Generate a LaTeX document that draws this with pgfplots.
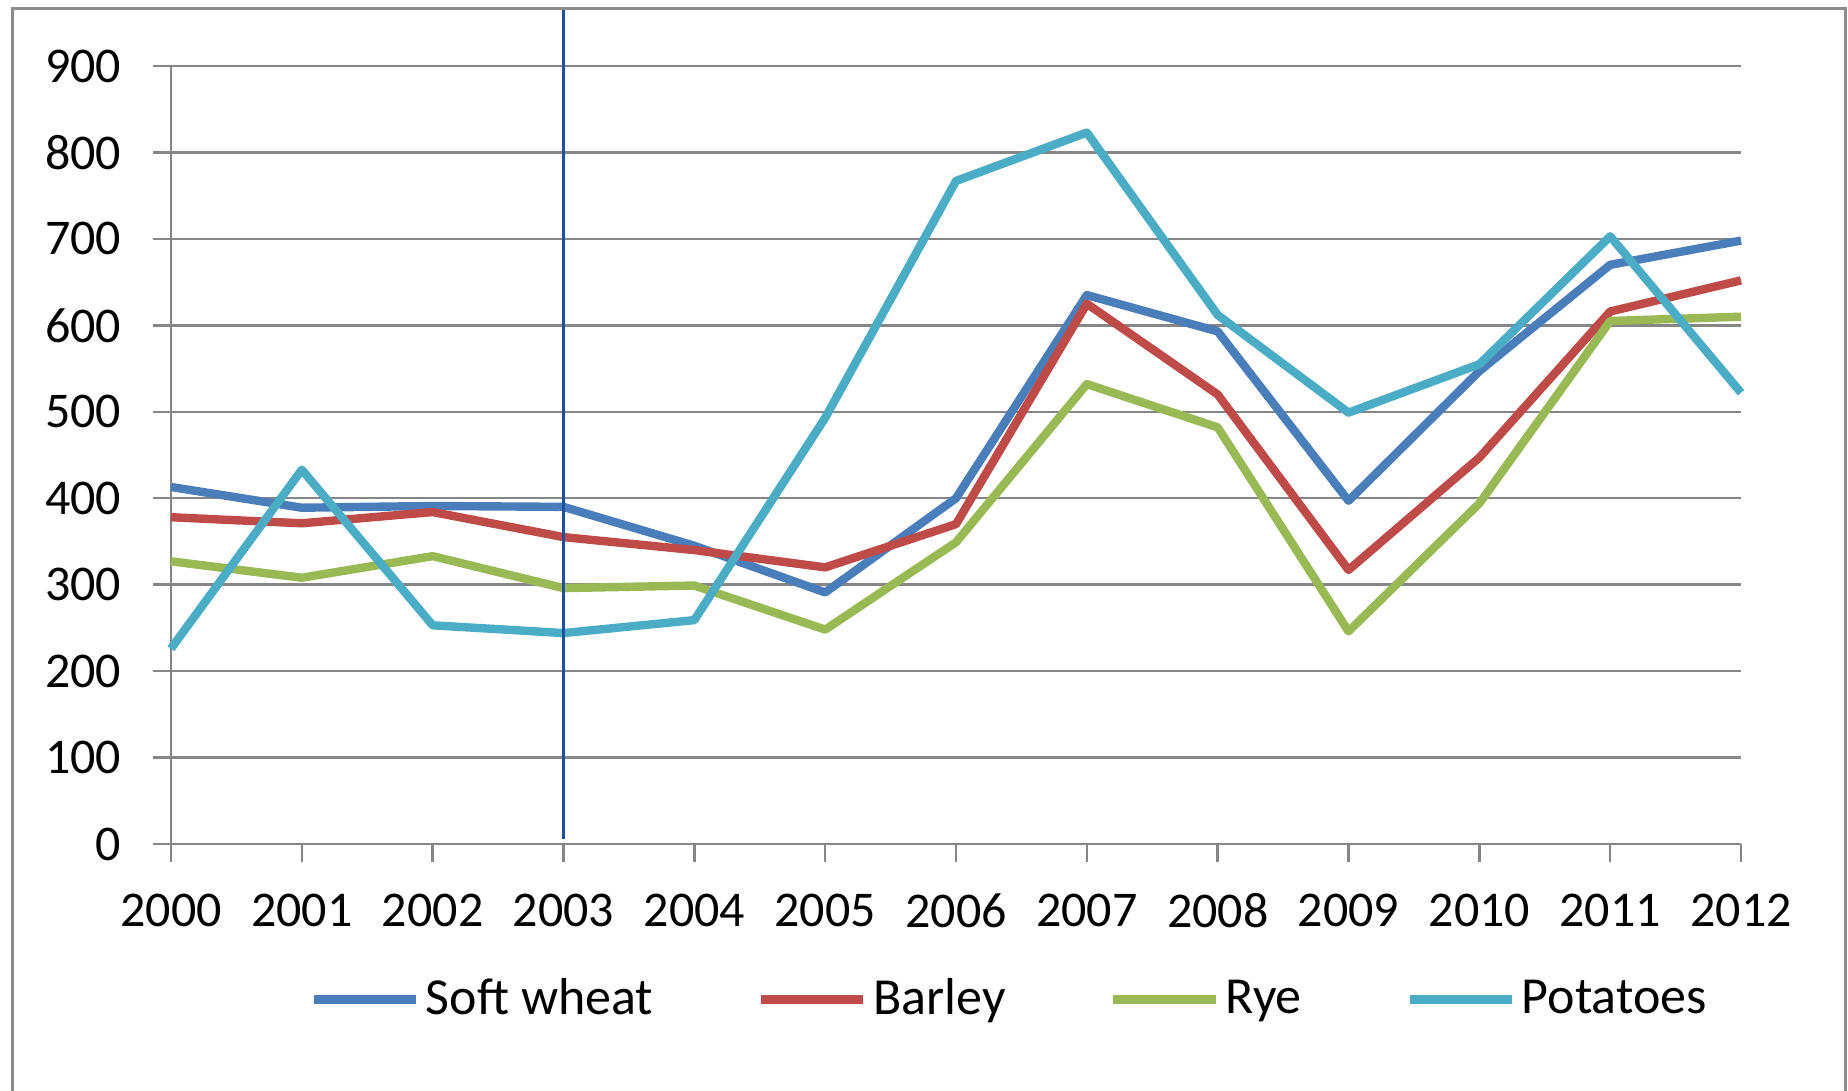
\documentclass[border=0pt]{standalone}
\usepackage{fontspec}
\setmainfont{Carlito}
\usepackage{pgfplots}
\pgfplotsset{compat=1.18}
\definecolor{cwheat}{RGB}{74,126,187}
\definecolor{cbarley}{RGB}{190,75,72}
\definecolor{crye}{RGB}{152,185,84}
\definecolor{cpot}{RGB}{75,172,198}
\definecolor{gridc}{RGB}{134,134,134}
\definecolor{framec}{RGB}{140,140,140}
\definecolor{cursor}{RGB}{30,80,160}
\begin{document}
\begin{tikzpicture}[x=1pt,y=1pt]
\useasboundingbox (-42.75,-61.5) rectangle (419.25,211);
\begin{axis}[
  at={(0,0)}, anchor=south west, scale only axis,
  width=392.5pt, height=194.5pt,
  xmin=0, xmax=12, ymin=0, ymax=900,
  enlargelimits=false,
  axis x line*=bottom, axis y line*=left,
  axis line style={gridc, line width=0.6pt, -},
  xtick={0,1,2,3,4,5,6,7,8,9,10,11,12},
  xticklabels={2000,2001,2002,2003,2004,2005,2006,2007,2008,2009,2010,2011,2012},
  ytick={0,100,200,300,400,500,600,700,800,900},
  tick align=outside, major tick length=4.5pt,
  tick style={gridc, line width=0.6pt},
  ymajorgrids, grid style={gridc, line width=0.6pt},
  font=\fontsize{12.5}{15}\selectfont,
  /pgf/number format/assume math mode=true,
  yticklabel style={anchor=east, inner sep=0pt, xshift=-7.75pt},
  xticklabel style={anchor=north, inner sep=0pt, yshift=-7.75pt},
  clip=false,
  legend style={at={(0.535,-0.2)}, anchor=center, draw=none, fill=none,
    legend columns=4, font=\fontsize{13}{15}\selectfont,
    nodes={inner xsep=1.4pt},
    /tikz/every even column/.append style={column sep=24.5pt}},
  legend image code/.code={\draw[#1] (0pt,0pt) -- (25.6pt,0pt);},
  every axis plot/.append style={line width=2.1pt, line join=round},
]
\addplot[cwheat] coordinates {(0,413)(1,389)(2,391)(3,390)(4,345)(5,291)(6,400)(7,635)(8,593)(9,397)(10,547)(11,670)(12,698)};
\addlegendentry{Soft wheat}
\addplot[cbarley] coordinates {(0,378)(1,371)(2,384)(3,355)(4,340)(5,320)(6,370)(7,625)(8,520)(9,317)(10,447)(11,616)(12,652)};
\addlegendentry{Barley}
\addplot[crye] coordinates {(0,327)(1,308)(2,333)(3,296)(4,299)(5,248)(6,349)(7,532)(8,482)(9,246)(10,394)(11,605)(12,610)};
\addlegendentry{Rye}
\addplot[cpot] coordinates {(0,226)(1,433)(2,253)(3,244)(4,259)(5,493)(6,767)(7,823)(8,612)(9,499)(10,555)(11,703)(12,522)};
\addlegendentry{Potatoes}
\end{axis}
\draw[cursor, line width=0.55pt] (98.125,1.25) -- (98.125,208.75);
\draw[framec, line width=0.75pt] (-39.5,-70) -- (-39.5,208.75) -- (418.5,208.75) -- (418.5,-70);
\end{tikzpicture}
\end{document}
